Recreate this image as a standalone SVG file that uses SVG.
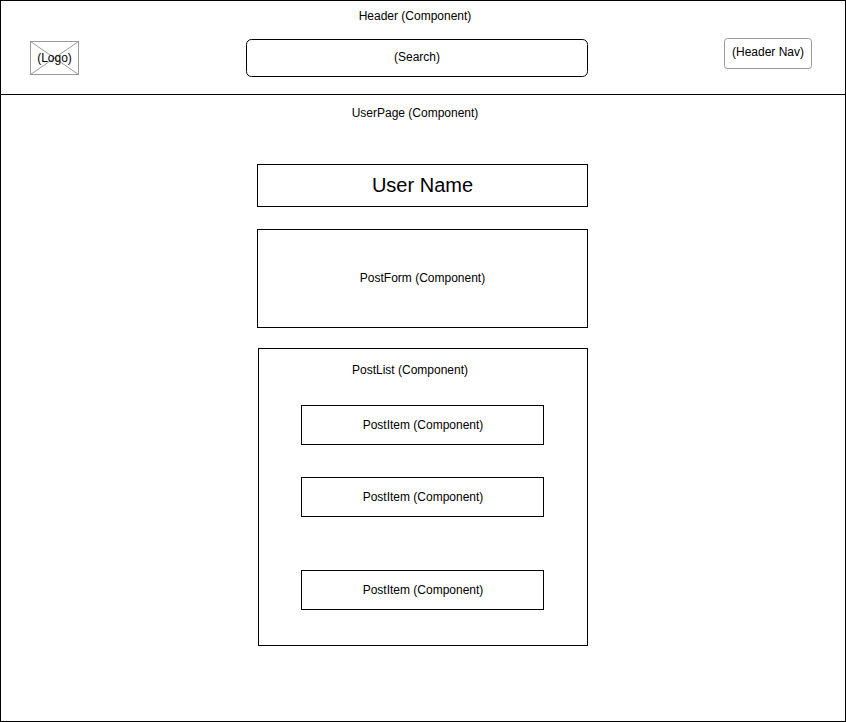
<svg xmlns="http://www.w3.org/2000/svg" width="846" height="722" viewBox="0 0 846 722">
<style>
  .box{fill:#ffffff;stroke:#000000;stroke-width:1}
  .gray{fill:#ffffff;stroke:#999999;stroke-width:1}
  text{font-family:"Liberation Sans",Arial,Helvetica,sans-serif;font-size:12px;fill:#000000;text-anchor:middle;dominant-baseline:central}
  .big{font-size:20px}
</style>
<rect x="0" y="0" width="846" height="722" fill="#ffffff"/>
<g id="header">
  <rect class="box" x="0.5" y="0.5" width="845" height="94"/>
  <text x="415" y="16">Header (Component)</text>
</g>
<g id="logo">
  <rect class="gray" x="30.5" y="41.5" width="48" height="33"/>
  <line x1="30.5" y1="41.5" x2="78.5" y2="74.5" stroke="#999999"/>
  <line x1="78.5" y1="41.5" x2="30.5" y2="74.5" stroke="#999999"/>
  <text x="54.5" y="58">(Logo)</text>
</g>
<g id="search">
  <rect class="box" x="246.5" y="39.5" width="341" height="37" rx="5" ry="5"/>
  <text x="417" y="57">(Search)</text>
</g>
<g id="headernav">
  <rect class="gray" x="724.5" y="38.5" width="87" height="30" rx="3" ry="3"/>
  <text x="768" y="52">(Header Nav)</text>
</g>
<g id="userpage">
  <rect class="box" x="0.5" y="94.5" width="845" height="627"/>
  <text x="415" y="113">UserPage (Component)</text>
</g>
<g id="username">
  <rect class="box" x="257.5" y="164.5" width="330" height="42"/>
  <text class="big" x="422.5" y="185">User Name</text>
</g>
<g id="postform">
  <rect class="box" x="257.5" y="229.5" width="330" height="98"/>
  <text x="422.5" y="278">PostForm (Component)</text>
</g>
<g id="postlist">
  <rect class="box" x="258.5" y="348.5" width="329" height="297"/>
  <text x="410" y="370">PostList (Component)</text>
</g>
<g id="postitem1">
  <rect class="box" x="301.5" y="405.5" width="242" height="39"/>
  <text x="423" y="425">PostItem (Component)</text>
</g>
<g id="postitem2">
  <rect class="box" x="301.5" y="477.5" width="242" height="39"/>
  <text x="423" y="497">PostItem (Component)</text>
</g>
<g id="postitem3">
  <rect class="box" x="301.5" y="570.5" width="242" height="39"/>
  <text x="423" y="590">PostItem (Component)</text>
</g>
<g id="connectors"></g>
</svg>
